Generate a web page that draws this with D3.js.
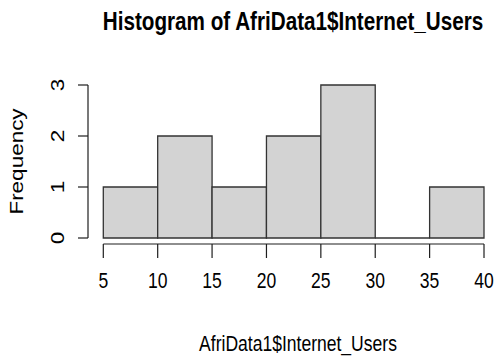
<!DOCTYPE html>
<html>
<head>
<meta charset="utf-8">
<script src="https://cdn.jsdelivr.net/npm/d3@7"></script>
<style>
  html, body { margin: 0; padding: 0; background: #ffffff; }
  svg { display: block; }
  text { font-family: "Liberation Sans", Arial, Helvetica, sans-serif; fill: #000; }
</style>
</head>
<body>
<svg id="chart" width="495" height="360"></svg>
<script>
// Histogram bins: break points and counts per bin
const breaks = [5, 10, 15, 20, 25, 30, 35, 40];
const counts = [1, 2, 1, 2, 3, 0, 1];
const xTicks = [5, 10, 15, 20, 25, 30, 35, 40];
const yTicks = [0, 1, 2, 3];
const titleText = "Histogram of AfriData1$Internet_Users";
const xLabelText = "AfriData1$Internet_Users";
const yLabelText = "Frequency";

const svg = d3.select("#chart");
const squeeze = 0.78;          // narrow lettering
const ink = "#1e1e1e";

const x = d3.scaleLinear().domain([5, 40]).range([103.3, 484]);
const y = d3.scaleLinear().domain([0, 3]).range([238, 85]);

// bins as objects
const bins = counts.map((c, i) => ({ x0: breaks[i], x1: breaks[i + 1], n: c }));

// bars; each bin outlined as a closed path so empty bins still show their base
const gBars = svg.append("g");
gBars.selectAll("path")
  .data(bins)
  .join("path")
  .attr("d", d => {
    const p = d3.path();
    p.moveTo(x(d.x0), y(0));
    p.lineTo(x(d.x0), y(d.n));
    p.lineTo(x(d.x1), y(d.n));
    p.lineTo(x(d.x1), y(0));
    p.closePath();
    return p.toString();
  })
  .attr("fill", "#d3d3d3")
  .attr("stroke", "#333")
  .attr("stroke-width", 1.3);

// x axis
const xAxisY = 244;
const gx = svg.append("g");
gx.append("line")
  .attr("x1", x(xTicks[0])).attr("x2", x(xTicks[xTicks.length - 1]))
  .attr("y1", xAxisY).attr("y2", xAxisY)
  .attr("stroke", ink).attr("stroke-width", 1.2);
gx.selectAll("line.tick")
  .data(xTicks)
  .join("line")
  .attr("class", "tick")
  .attr("x1", d => x(d)).attr("x2", d => x(d))
  .attr("y1", xAxisY).attr("y2", 258)
  .attr("stroke", ink).attr("stroke-width", 1.2);
gx.selectAll("text")
  .data(xTicks)
  .join("text")
  .attr("text-anchor", "middle")
  .attr("font-size", 22.5)
  .attr("transform", d => `translate(${x(d)},288) scale(${squeeze},1)`)
  .text(d => d);

// y axis
const yAxisX = 88;
const gy = svg.append("g");
gy.append("line")
  .attr("x1", yAxisX).attr("x2", yAxisX)
  .attr("y1", y(yTicks[0])).attr("y2", y(yTicks[yTicks.length - 1]))
  .attr("stroke", ink).attr("stroke-width", 1.2);
gy.selectAll("line.tick")
  .data(yTicks)
  .join("line")
  .attr("class", "tick")
  .attr("x1", 78).attr("x2", yAxisX)
  .attr("y1", d => y(d)).attr("y2", d => y(d))
  .attr("stroke", ink).attr("stroke-width", 1.2);
gy.selectAll("text")
  .data(yTicks)
  .join("text")
  .attr("text-anchor", "middle")
  .attr("font-size", 22.5)
  .attr("transform", d => `translate(64,${y(d)}) scale(${squeeze},1) rotate(-90)`)
  .text(d => d);

// title
svg.append("text")
  .attr("text-anchor", "middle")
  .attr("font-size", 26.5)
  .attr("font-weight", "bold")
  .attr("transform", `translate(293,30) scale(${squeeze},1)`)
  .text(titleText);

// axis titles
svg.append("text")
  .attr("text-anchor", "middle")
  .attr("font-size", 22.5)
  .attr("transform", `translate(298,351) scale(${squeeze},1)`)
  .text(xLabelText);

svg.append("text")
  .attr("text-anchor", "middle")
  .attr("font-size", 22.5)
  .attr("transform", `translate(23,161.5) scale(${squeeze},1) rotate(-90)`)
  .text(yLabelText);
</script>
</body>
</html>
